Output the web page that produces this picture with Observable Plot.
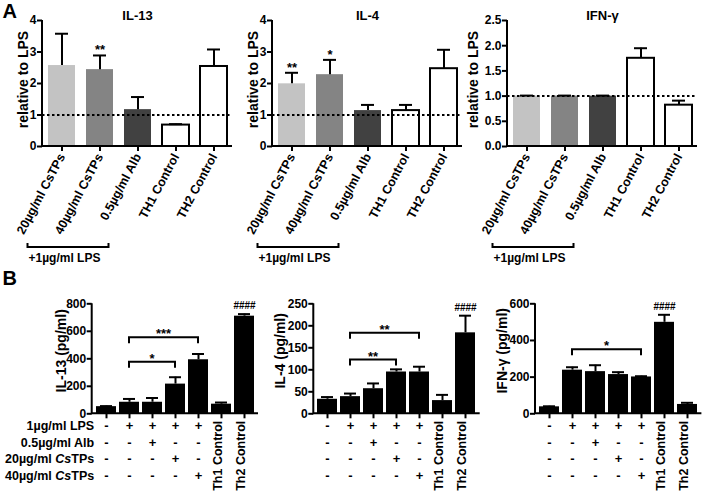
<!DOCTYPE html>
<html><head><meta charset="utf-8">
<script src="https://cdn.jsdelivr.net/npm/d3@7"></script>
<script src="https://cdn.jsdelivr.net/npm/@observablehq/plot@0.6"></script>
<style>
body{margin:0;background:#fff}
#chart{position:relative;width:703px;height:496px;overflow:hidden;background:#fff}
#chart svg{position:absolute}
</style></head><body><div id="chart"></div>
<script>
// ---------- DATA ----------
// Panel A (relative to LPS)
const aCategories = ["20µg/ml CsTPs", "40µg/ml CsTPs", "0.5µg/ml Alb", "TH1 Control", "TH2 Control"];
const aFills = ["#c3c3c3", "#848484", "#414141", "#ffffff", "#ffffff"];
const aStrokes = ["none", "none", "none", "black", "black"];
const aYLabel = "relative to LPS";
const aGroupLabel = "+1µg/ml LPS";

const il13Rel = [2.57, 2.44, 1.17, 0.68, 2.54];
const il13RelSem = [1.01, 0.45, 0.40, 0.03, 0.54];
const il13RelStars = ["", "**", "", "", ""];

const il4Rel = [1.99, 2.28, 1.14, 1.14, 2.47];
const il4RelSem = [0.35, 0.47, 0.18, 0.18, 0.60];
const il4RelStars = ["**", "*", "", "", ""];

const ifnRel = [1.0, 1.0, 1.0, 1.75, 0.82];
const ifnRelSem = [0.01, 0.01, 0.01, 0.20, 0.09];
const ifnRelStars = ["", "", "", "", ""];

const aTicks4 = [0, 1, 2, 3, 4];
const aTicksIfn = [0, 0.5, 1.0, 1.5, 2.0, 2.5];

// Panel B (pg/ml)
const bCategories = ["G1", "G2", "G3", "G4", "G5", "Th1 Control", "Th2 Control"];
const bTreatments = ["G1", "G2", "G3", "G4", "G5"];
const bControls = ["Th1 Control", "Th2 Control"];
const bRowLabels = ["1µg/ml LPS", "0.5µg/ml Alb", "20µg/ml CsTPs", "40µg/ml CsTPs"];
const bSigns = [
  ["-", "+", "+", "+", "+"],
  ["-", "-", "+", "-", "-"],
  ["-", "-", "-", "+", "-"],
  ["-", "-", "-", "-", "+"]
];

const il13B = [52, 84, 84, 216, 393, 70, 710];
const il13BSem = [4, 24, 31, 50, 42, 12, 15];
const il13BHash = ["", "", "", "", "", "", "####"];
const il13BTicks = [0, 200, 400, 600, 800];
const il13BBrackets = [{from: "G2", to: "G5", y: 553, label: "***"}, {from: "G2", to: "G4", y: 375, label: "*"}];

const il4B = [33, 39, 57, 95, 95, 30, 184];
const il4BSem = [5, 7, 12, 6, 12, 13, 39];
const il4BHash = ["", "", "", "", "", "", "####"];
const il4BTicks = [0, 50, 100, 150, 200, 250];
const il4BBrackets = [{from: "G2", to: "G5", y: 183, label: "**"}, {from: "G2", to: "G4", y: 122, label: "**"}];

const ifnB = [38, 238, 230, 214, 201, 499, 51];
const ifnBSem = [3, 16, 35, 13, 4, 41, 9];
const ifnBHash = ["", "", "", "", "", "####", ""];
const ifnBTicks = [0, 200, 400, 600];
const ifnBBrackets = [{from: "G2", to: "G5", y: 350, label: "*"}];

// ---------- HELPERS ----------
const FONT = "'Liberation Sans', Arial, Helvetica, sans-serif";
const chart = document.getElementById("chart");
const STYLE = {fontFamily: FONT, fontSize: "12px", fontWeight: "bold", background: "transparent", overflow: "visible", color: "black"};

function bandHalf(x) {
  if (!x || x.bandwidth == null) return 0;
  return (typeof x.bandwidth === "function" ? x.bandwidth() : x.bandwidth) / 2;
}

function axisLines() {
  return (index, scales, values, dims) => {
    const {width, height, marginLeft, marginRight, marginTop, marginBottom} = dims;
    const g = d3.create("svg:g");
    g.append("path")
      .attr("d", `M${marginLeft},${marginTop}V${height - marginBottom}H${width - marginRight}`)
      .attr("fill", "none").attr("stroke", "black").attr("stroke-width", 2);
    return g.node();
  };
}

function lpsBracket(cats) {
  return (index, scales, values, dims) => {
    const x = scales.x, h = bandHalf(x);
    const y0 = dims.height - dims.marginBottom + 101;
    const x0 = x(cats[0]) + h - 34, x1 = x(cats[2]) + h - 29;
    const g = d3.create("svg:g");
    g.append("path").attr("d", `M${x0},${y0 - 4}V${y0}H${x1}V${y0 - 4}`)
      .attr("fill", "none").attr("stroke", "black").attr("stroke-width", 2);
    g.append("text").attr("x", x0 + 1).attr("y", y0 + 15).attr("text-anchor", "start")
      .attr("font-size", 12).attr("font-weight", "bold").text(aGroupLabel);
    return g.node();
  };
}

function bracketMark(brackets) {
  return (index, scales, values, dims) => {
    const x = scales.x, y = scales.y, h = bandHalf(x);
    const g = d3.create("svg:g");
    for (const br of brackets) {
      const x1 = x(br.from) + h, x2 = x(br.to) + h, yy = y(br.y);
      g.append("path").attr("d", `M${x1},${yy + 6}V${yy}H${x2}V${yy + 6}`)
        .attr("fill", "none").attr("stroke", "black").attr("stroke-width", 2);
      g.append("text").attr("x", (x1 + x2) / 2).attr("y", yy + 1).attr("text-anchor", "middle")
        .attr("font-size", 13).attr("font-weight", "bold").text(br.label);
    }
    return g.node();
  };
}

function place(svg, left, top) {
  svg.style.left = left + "px";
  svg.style.top = top + "px";
  chart.append(svg);
}

// ---------- PANEL A ----------
function panelA({left, width, marginLeft, marginRight, title, values, sems, stars, yMax, ticks, format, yLabelDx, letter}) {
  const data = aCategories.map((c, i) => ({cat: c, v: values[i], e: values[i] + sems[i], fill: aFills[i], stroke: aStrokes[i], star: stars[i]}));
  const marks = [
    Plot.barY(data, {x: "cat", y: "v", fill: "fill", stroke: "stroke", strokeWidth: 2}),
    Plot.ruleX(data, {x: "cat", y1: "v", y2: "e", strokeWidth: 2}),
    Plot.tickY(data, {x: "cat", y: "e", strokeWidth: 2, insetLeft: 7, insetRight: 7}),
    Plot.ruleY([1], {strokeDasharray: "2.5,2.5", strokeWidth: 2}),
    Plot.text(data, {x: "cat", y: "e", text: "star", lineAnchor: "bottom", dy: -1, fontSize: 13}),
    Plot.axisY(ticks, {tickFormat: format, tickSize: 5, strokeWidth: 2, label: null, tickPadding: 1}),
    Plot.axisX({tickRotate: -62, tickSize: 5, strokeWidth: 2, label: null, tickPadding: 3, fontSize: 12.5}),
    axisLines(),
    Plot.text([title], {frameAnchor: "top", lineAnchor: "middle", dy: -5, fontSize: 13}),
    Plot.text([aYLabel], {frameAnchor: "left", textAnchor: "middle", rotate: -90, dx: yLabelDx, dy: -4, fontSize: 14}),
    lpsBracket(aCategories)
  ];
  if (letter) marks.push(Plot.text([letter], {frameAnchor: "top-left", textAnchor: "start", lineAnchor: "top", dx: -marginLeft + 2, dy: -17, fontSize: 20}));
  const svg = Plot.plot({
    width, height: 270, marginLeft, marginRight, marginTop: 20, marginBottom: 124,
    style: STYLE,
    x: {type: "band", domain: aCategories, paddingInner: 0.29, paddingOuter: 0.145, label: null},
    y: {domain: [0, yMax], label: null},
    color: {type: "identity"},
    marks
  });
  place(svg, left, 0);
}

panelA({left: 0, width: 240, marginLeft: 42, marginRight: 8, title: "IL-13", values: il13Rel, sems: il13RelSem, stars: il13RelStars, yMax: 4, ticks: aTicks4, format: d3.format("d"), yLabelDx: -19, letter: "A"});
panelA({left: 230, width: 240, marginLeft: 42, marginRight: 8, title: "IL-4", values: il4Rel, sems: il4RelSem, stars: il4RelStars, yMax: 4, ticks: aTicks4, format: d3.format("d"), yLabelDx: -19});
panelA({left: 466, width: 237, marginLeft: 41, marginRight: 6, title: "IFN-γ", values: ifnRel, sems: ifnRelSem, stars: ifnRelStars, yMax: 2.5, ticks: aTicksIfn, format: d3.format(".1f"), yLabelDx: -34});

// ---------- PANEL B ----------
const rowDy = [16, 33, 49.5, 66.5];
function panelB({left, width, marginLeft, marginRight, values, sems, hash, yMax, ticks, yLabel, yLabelDx, brackets, rowLabels, letter}) {
  const data = bCategories.map((c, i) => ({cat: c, v: values[i], e: values[i] + sems[i], hash: hash[i]}));
  const marks = [
    Plot.barY(data, {x: "cat", y: "v", fill: "black"}),
    Plot.ruleX(data, {x: "cat", y1: "v", y2: "e", strokeWidth: 2}),
    Plot.tickY(data, {x: "cat", y: "e", strokeWidth: 2, insetLeft: 4, insetRight: 4}),
    Plot.text(data, {x: "cat", y: "e", text: "hash", lineAnchor: "bottom", dy: -5, fontSize: 10}),
    Plot.axisY(ticks, {tickSize: 5, strokeWidth: 2, label: null, tickPadding: 1}),
    Plot.axisX({tickSize: 5, strokeWidth: 2, label: null, tickFormat: () => ""}),
    axisLines(),
    bracketMark(brackets),
    Plot.text([yLabel], {frameAnchor: "left", textAnchor: "middle", rotate: -90, dx: yLabelDx, dy: -8, fontSize: 14}),
    Plot.text(bControls, {x: d => d, text: d => d, frameAnchor: "bottom", rotate: -90, textAnchor: "start", dy: 77, fontSize: 12.5})
  ];
  bSigns.forEach((row, r) => {
    marks.push(Plot.text(bTreatments.map((c, i) => ({cat: c, s: row[i]})), {x: "cat", text: "s", frameAnchor: "bottom", dy: rowDy[r], fontSize: 13}));
    if (rowLabels) marks.push(Plot.text([bRowLabels[r]], {frameAnchor: "bottom-left", textAnchor: "end", dx: 2, dy: rowDy[r], fontSize: 12.5}));
  });
  if (letter) marks.push(Plot.text([letter], {frameAnchor: "top-left", textAnchor: "start", lineAnchor: "top", dx: -marginLeft + 2, dy: -33, fontSize: 20}));
  const svg = Plot.plot({
    width, height: 231, marginLeft, marginRight, marginTop: 38.3, marginBottom: 82.7,
    style: STYLE,
    x: {type: "band", domain: bCategories, paddingInner: 0.13, paddingOuter: 0.136, label: null},
    y: {domain: [0, yMax], label: null},
    marks
  });
  // italic "Cs" in CsTPs row labels
  svg.querySelectorAll("text").forEach(t => {
    const s = t.textContent;
    if (rowLabels && bRowLabels.includes(s) && s.includes("CsTPs")) {
      const k = s.indexOf("Cs");
      t.textContent = "";
      const ns = "http://www.w3.org/2000/svg";
      const a = document.createElementNS(ns, "tspan"); a.textContent = s.slice(0, k);
      const b = document.createElementNS(ns, "tspan"); b.textContent = "Cs"; b.setAttribute("font-style", "italic");
      const c = document.createElementNS(ns, "tspan"); c.textContent = s.slice(k + 2);
      t.append(a, b, c);
    }
  });
  place(svg, left, 265);
}

panelB({left: 0, width: 262, marginLeft: 91.7, marginRight: 4, values: il13B, sems: il13BSem, hash: il13BHash, yMax: 800, ticks: il13BTicks, yLabel: "IL-13 (pg/ml)", yLabelDx: -31, brackets: il13BBrackets, rowLabels: true, letter: "B"});
panelB({left: 262, width: 220, marginLeft: 51.3, marginRight: 2.3, values: il4B, sems: il4BSem, hash: il4BHash, yMax: 250, ticks: il4BTicks, yLabel: "IL-4 (pg/ml)", yLabelDx: -33, brackets: il4BBrackets, rowLabels: false});
panelB({left: 482, width: 221, marginLeft: 53, marginRight: 1.6, values: ifnB, sems: ifnBSem, hash: ifnBHash, yMax: 600, ticks: ifnBTicks, yLabel: "IFN-γ (pg/ml)", yLabelDx: -33, brackets: ifnBBrackets, rowLabels: false});
</script></body></html>
